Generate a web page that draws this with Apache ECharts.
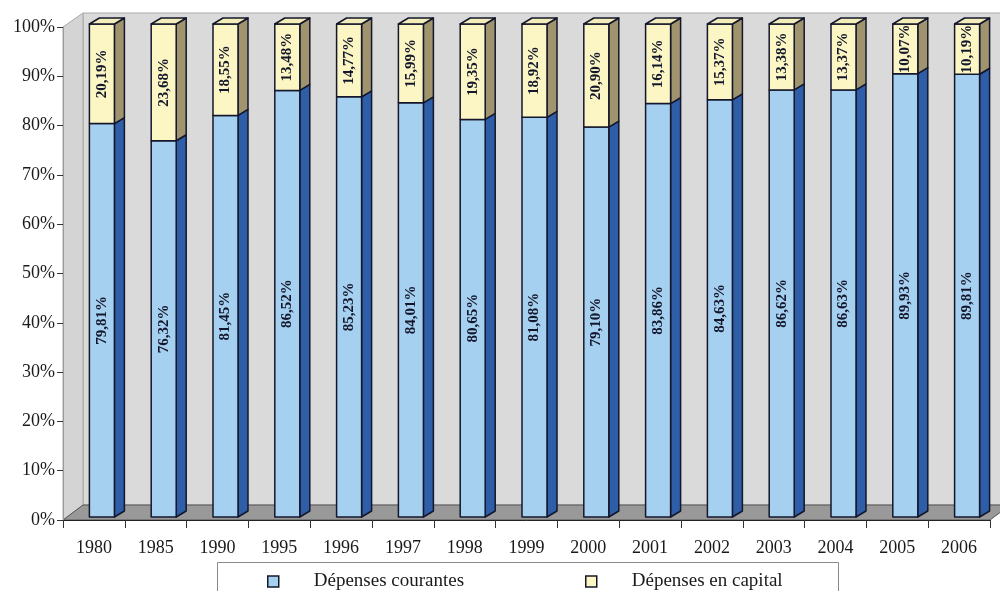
<!DOCTYPE html>
<html>
<head>
<meta charset="utf-8">
<script src="https://cdn.jsdelivr.net/npm/echarts@6/dist/echarts.min.js"></script>
<style>
  html, body { margin: 0; padding: 0; background: #ffffff; }
  #chart { width: 1000px; height: 591px; }
</style>
</head>
<body>
<div id="chart"></div>
<script>
// Répartition des dépenses publiques (en % du total)
const years = ['1980', '1985', '1990', '1995', '1996', '1997', '1998', '1999', '2000', '2001', '2002', '2003', '2004', '2005', '2006'];
const courantes = [79.81, 76.32, 81.45, 86.52, 85.23, 84.01, 80.65, 81.08, 79.10, 83.86, 84.63, 86.62, 86.63, 89.93, 89.81];
const capital = [20.19, 23.68, 18.55, 13.48, 14.77, 15.99, 19.35, 18.92, 20.90, 16.14, 15.37, 13.38, 13.37, 10.07, 10.19];
const seriesNames = ['Dépenses courantes', 'Dépenses en capital'];

// plot frame
const G = { left: 63, top: 27, right: 10, bottom: 71 };
const W = 1000, H = 591;
const plotRight = W - G.right, plotBottom = H - G.bottom;
const DEPTH_X = 20, DEPTH_Y = 15; // wall / floor depth

const serif = '"Liberation Serif", "DejaVu Serif", serif';
const ink = '#14172b';

function fmt(v) { return v.toFixed(2).replace('.', ',') + '%'; }

// one stacked segment drawn as a box: front face, side face, optional lid
function boxRenderer(front, side, lid) {
  return function (params, api) {
    const i = api.value(0), lo = api.value(1), hi = api.value(2), shown = api.value(3);
    const pLo = api.coord([i, lo]);
    const pHi = api.coord([i, hi]);
    const w = 25, dx = 10, dy = 6, sx = 8, sy = -3;
    const x0 = pLo[0] + sx - w / 2, x1 = x0 + w;
    const yb = pLo[1] + sy, yt = pHi[1] + sy;
    const stroke = { stroke: ink, lineWidth: 1.5, lineJoin: 'round' };
    const children = [
      { type: 'polygon', shape: { points: [[x1, yt], [x1 + dx, yt - dy], [x1 + dx, yb - dy], [x1, yb]] },
        style: Object.assign({ fill: side }, stroke) },
      { type: 'rect', shape: { x: x0, y: yt, width: w, height: yb - yt },
        style: Object.assign({ fill: front }, stroke) }
    ];
    if (lid) {
      children.push({ type: 'polygon', shape: { points: [[x0, yt], [x0 + dx, yt - dy], [x1 + dx, yt - dy], [x1, yt]] },
        style: Object.assign({ fill: lid }, stroke) });
    }
    children.push({
      type: 'text', x: (x0 + x1) / 2, y: (yb + yt) / 2, rotation: Math.PI / 2,
      style: { text: fmt(shown), x: 0, y: 0, fill: ink, font: 'bold 15px ' + serif,
               align: 'center', verticalAlign: 'middle', textAlign: 'center', textVerticalAlign: 'middle' }
    });
    return { type: 'group', children: children };
  };
}

const dataCourantes = years.map((y, i) => [i, 0, courantes[i], courantes[i]]);
const dataCapital = years.map((y, i) => [i, courantes[i], courantes[i] + capital[i], capital[i]]);

const chart = echarts.init(document.getElementById('chart'), null, { renderer: 'canvas' });

chart.setOption({
  animation: false,
  backgroundColor: '#ffffff',
  grid: { left: G.left, top: G.top, right: G.right, bottom: G.bottom, containLabel: false },
  xAxis: {
    type: 'category',
    data: years,
    boundaryGap: true,
    axisLine: { show: true, lineStyle: { color: '#222', width: 1 } },
    axisTick: { show: true, length: 8, lineStyle: { color: '#333' } },
    axisLabel: { color: '#1a1a1a', fontFamily: serif, fontSize: 18, margin: 19 },
    splitLine: { show: false }
  },
  yAxis: {
    type: 'value',
    min: 0, max: 100, interval: 10,
    axisLine: { show: true, lineStyle: { color: '#9a9a9a', width: 1 } },
    axisTick: { show: true, length: 6, lineStyle: { color: '#333' } },
    axisLabel: { formatter: '{value}%', color: '#1a1a1a', fontFamily: serif, fontSize: 18, margin: 8 },
    splitLine: { show: false }
  },
  legend: [
    { data: [{ name: seriesNames[0], icon: 'rect', itemStyle: { color: '#a6d0f0', borderColor: ink, borderWidth: 1.5 } }],
      left: 262, top: 567, itemWidth: 11, itemHeight: 11, selectedMode: false,
      textStyle: { fontFamily: serif, fontSize: 19, color: '#1a1a1a', padding: [0, 0, 0, 30] } },
    { data: [{ name: seriesNames[1], icon: 'rect', itemStyle: { color: '#fbf6c4', borderColor: ink, borderWidth: 1.5 } }],
      left: 580, top: 567, itemWidth: 11, itemHeight: 11, selectedMode: false,
      textStyle: { fontFamily: serif, fontSize: 19, color: '#1a1a1a', padding: [0, 0, 0, 30] } }
  ],
  graphic: [
    // back wall
    { type: 'rect', z: -10, shape: { x: G.left + DEPTH_X, y: G.top - DEPTH_Y + 1, width: W, height: plotBottom - G.top - 1 },
      style: { fill: '#dadada', stroke: '#a8a8a8', lineWidth: 1 } },
    // left side panel
    { type: 'polygon', z: -9, shape: { points: [[G.left, G.top], [G.left + DEPTH_X, G.top - DEPTH_Y + 1], [G.left + DEPTH_X, plotBottom - DEPTH_Y], [G.left, plotBottom]] },
      style: { fill: '#d4d4d4', stroke: '#a8a8a8', lineWidth: 1 } },
    // floor
    { type: 'polygon', z: -8, shape: { points: [[G.left, plotBottom], [G.left + DEPTH_X, plotBottom - DEPTH_Y], [plotRight + DEPTH_X, plotBottom - DEPTH_Y], [plotRight, plotBottom]] },
      style: { fill: '#999999', stroke: '#555', lineWidth: 1 } },
    // legend frame
    { type: 'rect', z: -5, shape: { x: 217.5, y: 562.5, width: 621, height: 40 },
      style: { fill: '#ffffff', stroke: '#8a8a8a', lineWidth: 1 } }
  ],
  series: [
    { name: seriesNames[0], type: 'custom', clip: false, renderItem: boxRenderer('#a6d0f0', '#2e5ea8', null),
      encode: { x: 0, y: [1, 2] }, data: dataCourantes, itemStyle: { color: '#a6d0f0' } },
    { name: seriesNames[1], type: 'custom', clip: false, renderItem: boxRenderer('#fbf6c4', '#a0946e', '#f3edba'),
      encode: { x: 0, y: [1, 2] }, data: dataCapital, itemStyle: { color: '#fbf6c4' } }
  ]
});
</script>
</body>
</html>
